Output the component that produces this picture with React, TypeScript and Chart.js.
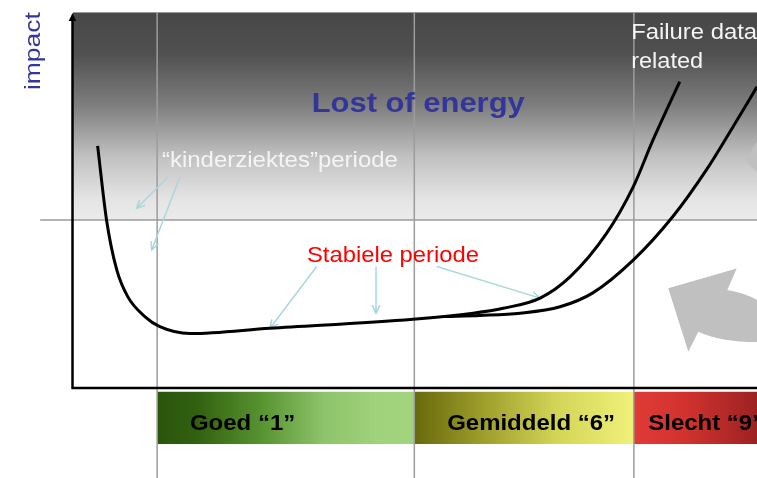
import React, { useEffect, useRef } from 'react';
import { Chart, registerables } from 'chart.js';

Chart.register(...registerables);

// Bathtub curve (x = life time, y = impact)
const curve1X = [3.6, 4.9, 6.4, 8.0, 10.5, 12.7, 17.1, 28.8, 49.7, 58.5, 62.9, 68.3, 72.7, 78.0, 81.9, 84.8, 88.7];
const curve1Y = [64.4, 44.7, 31.4, 24.3, 19.0, 16.3, 14.5, 15.9, 18.3, 19.9, 21.2, 23.9, 29.6, 41.1, 53.5, 66.0, 81.5];
// Second wear-out curve
const curve2X = [54.4, 59.5, 65.4, 71.2, 76.0, 81.9, 87.7, 92.6, 96.5, 100];
const curve2Y = [19.0, 19.3, 19.9, 21.6, 25.3, 34.0, 45.6, 58.0, 69.5, 80.1];

// Condition bands under the time axis
const bandLabels = ['Goed “1”', 'Gemiddeld “6”', 'Slecht “9”'];
const bandStarts = [12.3, 49.9, 82.0];
const bandEnds = [49.9, 82.0, 100];

const thresholdY = 44.7;
const axisTitle = 'impact';
const zoneTitle = 'Lost of energy';
const earlyLabel = '“kinderziektes”periode';
const stableLabel = 'Stabiele periode';
const failureLines = ['Failure data', 'related'];

const FONT = '"Liberation Sans", Arial, sans-serif';

function fitText(ctx: CanvasRenderingContext2D, text: string, x: number, y: number, font: string, color: string, width: number) {
  ctx.save();
  ctx.font = font;
  const w = ctx.measureText(text).width;
  ctx.translate(x, y);
  ctx.scale(width / w, 1);
  ctx.fillStyle = color;
  ctx.textAlign = 'left';
  ctx.textBaseline = 'alphabetic';
  ctx.fillText(text, 0, 0);
  ctx.restore();
}

function scaledText(ctx: CanvasRenderingContext2D, text: string, x: number, y: number, font: string, color: string, sx: number) {
  ctx.save();
  ctx.font = font;
  ctx.translate(x, y);
  ctx.scale(sx, 1);
  ctx.fillStyle = color;
  ctx.textAlign = 'left';
  ctx.textBaseline = 'alphabetic';
  ctx.fillText(text, 0, 0);
  ctx.restore();
}

function arrow(ctx: CanvasRenderingContext2D, x1: number, y1: number, x2: number, y2: number) {
  const a = Math.atan2(y2 - y1, x2 - x1);
  const L = 9;
  const s = 0.45;
  ctx.beginPath();
  ctx.moveTo(x1, y1);
  ctx.lineTo(x2, y2);
  ctx.moveTo(x2 - L * Math.cos(a - s), y2 - L * Math.sin(a - s));
  ctx.lineTo(x2, y2);
  ctx.lineTo(x2 - L * Math.cos(a + s), y2 - L * Math.sin(a + s));
  ctx.stroke();
}

const diagramPlugin = {
  id: 'diagram',
  beforeDatasetsDraw(chart: any) {
    const { ctx } = chart;
    const xs = chart.scales.x;
    const ys = chart.scales.y;
    const X = (v: number) => xs.getPixelForValue(v);
    const Y = (v: number) => ys.getPixelForValue(v);
    ctx.save();

    // dark "lost of energy" zone
    const top = Y(100);
    const bot = Y(thresholdY);
    const g = ctx.createLinearGradient(0, top, 0, bot);
    g.addColorStop(0, '#474747');
    g.addColorStop(0.2, '#505050');
    g.addColorStop(0.45, '#7e7e7e');
    g.addColorStop(0.7, '#c2c2c2');
    g.addColorStop(0.9, '#e4e4e4');
    g.addColorStop(1, '#ebebeb');
    ctx.fillStyle = g;
    ctx.fillRect(X(0), top, X(100) - X(0), bot - top);
    ctx.strokeStyle = '#9a9a9a';
    ctx.lineWidth = 1;
    ctx.beginPath();
    ctx.moveTo(X(0), top + 0.5);
    ctx.lineTo(X(100), top + 0.5);
    ctx.stroke();

    // condition bands
    const bandColors = [
      [[0, '#2b540c'], [0.15, '#31600f'], [0.4, '#56922f'], [0.65, '#8ec46b'], [0.85, '#9fd27a'], [1, '#a2d47d']],
      [[0, '#68690c'], [0.3, '#9b9c2a'], [0.65, '#d3d557'], [1, '#eff17a']],
      [[0, '#e13a37'], [0.4, '#d2332f'], [1, '#9d2222']],
    ];
    const bTop = Y(-1);
    const bBot = Y(-14.9);
    bandStarts.forEach((s, i) => {
      const x0 = X(s);
      const x1 = X(bandEnds[i]);
      const span = i === 2 ? (x1 - x0) * 1.0 : x1 - x0;
      const bg = ctx.createLinearGradient(x0, 0, x0 + span, 0);
      (bandColors[i] as any[]).forEach(([o, c]) => bg.addColorStop(o, c));
      ctx.fillStyle = bg;
      ctx.fillRect(x0, bTop, x1 - x0, bBot - bTop);
    });

    // grey reference lines
    ctx.strokeStyle = '#9c9c9c';
    ctx.lineWidth = 1.5;
    ctx.beginPath();
    ctx.moveTo(X(-4.8), Y(thresholdY));
    ctx.lineTo(X(100), Y(thresholdY));
    bandStarts.forEach((s) => {
      ctx.moveTo(X(s), Y(100));
      ctx.lineTo(X(s), chart.height);
    });
    ctx.stroke();

    // big grey circular arrow (right)
    ctx.fillStyle = '#c0c0c0';
    ctx.beginPath();
    ctx.moveTo(X(87.03), Y(26.5));
    ctx.lineTo(X(97.03), Y(31.8));
    ctx.lineTo(X(95.66), Y(26.06));
    ctx.quadraticCurveTo(X(98.25), Y(25.27), X(100), Y(23.4));
    ctx.lineTo(X(100), Y(12.23));
    ctx.quadraticCurveTo(X(94.59), Y(12.23), X(91.42), Y(14.97));
    ctx.lineTo(X(89.96), Y(9.65));
    ctx.closePath();
    ctx.fill();
    ctx.beginPath();
    ctx.moveTo(X(100), Y(65.4));
    ctx.lineTo(X(98.25), Y(60.6));
    ctx.lineTo(X(100), Y(57.4));
    ctx.closePath();
    ctx.fill();

    // axes
    ctx.strokeStyle = '#000';
    ctx.fillStyle = '#000';
    ctx.lineWidth = 2.5;
    const ax = X(0) - 0.5;
    ctx.beginPath();
    ctx.moveTo(ax, Y(0) + 1);
    ctx.lineTo(ax, Y(100) + 4);
    ctx.moveTo(ax - 1, Y(0));
    ctx.lineTo(X(100), Y(0));
    ctx.stroke();
    ctx.beginPath();
    ctx.moveTo(ax, Y(100) + 1);
    ctx.lineTo(ax - 3.8, Y(100) + 9);
    ctx.lineTo(ax + 3.8, Y(100) + 9);
    ctx.closePath();
    ctx.fill();

    // annotation pointers
    ctx.strokeStyle = '#a8d8dc';
    ctx.lineWidth = 1.5;
    arrow(ctx, X(13.93), Y(56.2), X(9.31), Y(47.8));
    arrow(ctx, X(15.64), Y(56.2), X(11.51), Y(36.7));
    arrow(ctx, X(35.63), Y(32.3), X(28.8), Y(15.9));
    arrow(ctx, X(44.3), Y(32.3), X(44.3), Y(19.9));
    arrow(ctx, X(53.17), Y(32.3), X(68.27), Y(23.9));

    ctx.restore();
  },
  afterDatasetsDraw(chart: any) {
    const { ctx } = chart;
    const xs = chart.scales.x;
    const ys = chart.scales.y;
    const X = (v: number) => xs.getPixelForValue(v);
    const Y = (v: number) => ys.getPixelForValue(v);

    fitText(ctx, zoneTitle, X(34.9), Y(73.4), `bold 27px ${FONT}`, '#33359a', 213);
    fitText(ctx, earlyLabel, X(13.0), Y(58.9), `22px ${FONT}`, '#f4f4f4', 236);
    fitText(ctx, failureLines[0], X(81.6), Y(92.8), `22px ${FONT}`, '#f4f4f4', 126);
    fitText(ctx, failureLines[1], X(81.6), Y(85.1), `22px ${FONT}`, '#f4f4f4', 72);
    fitText(ctx, stableLabel, X(34.2), Y(33.6), `22px ${FONT}`, '#ff0000', 172);

    // rotated axis title
    ctx.save();
    ctx.translate(X(-5.7), Y(89.6));
    ctx.rotate(-Math.PI / 2);
    ctx.font = `22px ${FONT}`;
    const w = ctx.measureText(axisTitle).width;
    ctx.scale(78 / w, 1);
    ctx.fillStyle = '#33359a';
    ctx.textAlign = 'center';
    ctx.textBaseline = 'middle';
    ctx.fillText(axisTitle, 0, 0);
    ctx.restore();

    const labelX = [17.1, 54.7, 84.1];
    bandLabels.forEach((t, i) => {
      scaledText(ctx, t, X(labelX[i]), Y(-11.2), `bold 22px ${FONT}`, '#000', 1.09);
    });
  },
};

export default function App() {
  const ref = useRef<HTMLCanvasElement | null>(null);
  useEffect(() => {
    if (!ref.current) return;
    const chart = new Chart(ref.current, {
      type: 'line',
      data: {
        datasets: [
          {
            data: curve1X.map((x, i) => ({ x, y: curve1Y[i] })),
            borderColor: '#000',
            borderWidth: 3,
            pointRadius: 0,
            cubicInterpolationMode: 'monotone',
            fill: false,
            clip: 6,
          } as any,
          {
            data: curve2X.map((x, i) => ({ x, y: curve2Y[i] })),
            borderColor: '#000',
            borderWidth: 3,
            pointRadius: 0,
            cubicInterpolationMode: 'monotone',
            fill: false,
            clip: 6,
          } as any,
        ],
      },
      options: {
        responsive: false,
        maintainAspectRatio: false,
        devicePixelRatio: 1,
        animation: false,
        layout: { padding: { left: 73, right: 0, top: 12, bottom: 90 } },
        scales: {
          x: { type: 'linear', min: 0, max: 100, display: false },
          y: { type: 'linear', min: 0, max: 100, display: false },
        },
        plugins: { legend: { display: false }, tooltip: { enabled: false } },
        events: [],
      },
      plugins: [diagramPlugin],
    });
    return () => chart.destroy();
  }, []);
  return (
    <div style={{ position: 'absolute', left: 0, top: 0, width: 757, height: 478, background: '#fff' }}>
      <canvas ref={ref} width={757} height={478} style={{ display: 'block' }} />
    </div>
  );
}
